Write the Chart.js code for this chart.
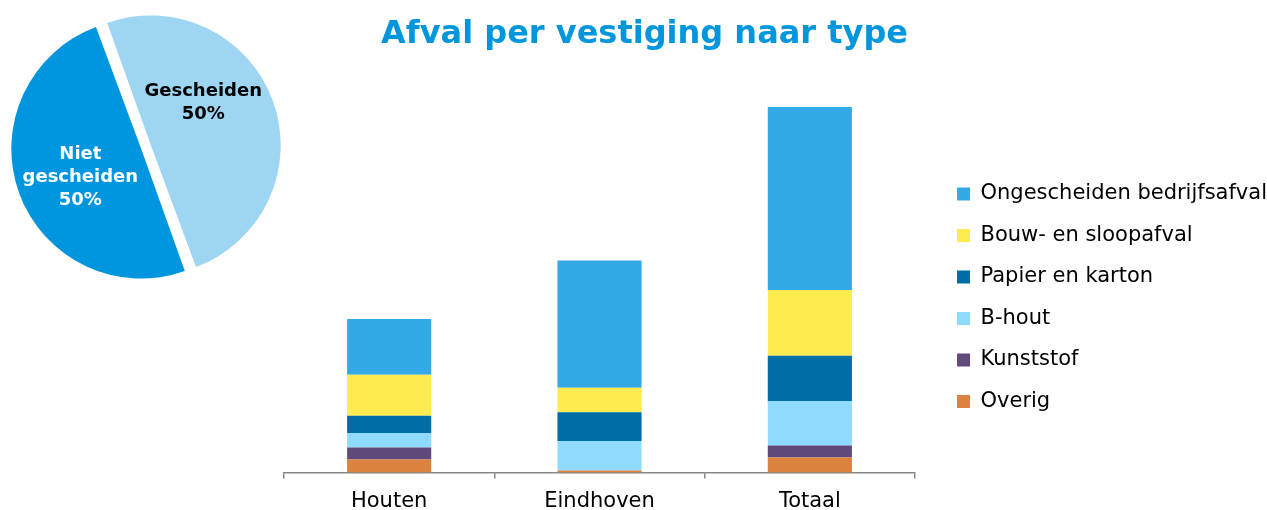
<!DOCTYPE html>
<html>
<head>
<meta charset="utf-8">
<script src="https://cdn.jsdelivr.net/npm/chart.js@4"></script>
<style>
    body { margin: 0; background: #fff; overflow: hidden; }
    #wrap { position: relative; width: 1267px; height: 510px; }
    #barChart { position: absolute; left: 0; top: 0; }
    #pieChart { position: absolute; left: 11px; top: 12px; }
</style>
</head>
<body>
<div id="wrap">
    <canvas id="barChart" width="1267" height="510"></canvas>
    <canvas id="pieChart" width="270" height="270"></canvas>
</div>
<script>
// Data
const categories = ['Houten', 'Eindhoven', 'Totaal']
const wasteTypes = ['Overig', 'Kunststof', 'B-hout', 'Papier en karton', 'Bouw- en sloopafval', 'Ongescheiden bedrijfsafval']
const overig = [13, 2, 15]
const kunststof = [12, 0, 12]
const bHout = [14.5, 29.5, 44]
const papier = [17, 28.5, 45.5]
const bouw = [41, 24.5, 65.5]
const ongescheiden = [55.5, 127, 182.5]

const pieLabels = ['Gescheiden', ['Niet', 'gescheiden']]
const pieValues = [50, 50]

const colors = ['#DB823E', '#604A7B', '#8FDAFF', '#006DA6', '#FEEB50', '#33AAE5']
const pieColors = ['#9DD5F2', '#0096DF']

Chart.defaults.font.family = "'DejaVu Sans', Verdana, sans-serif"
Chart.defaults.color = '#000'
Chart.defaults.animation = false

// Stacked bars
const seriesValues = [overig, kunststof, bHout, papier, bouw, ongescheiden]
const datasets = seriesValues.map((values, i) => ({
    label: wasteTypes[i],
    data: values,
    backgroundColor: colors[i],
    borderWidth: 0,
    barPercentage: 0.4,
    categoryPercentage: 1.0,
}))

// legend sits a bit closer to the right edge than chart.js default
const legendFit = {
    id: 'legendFit',
    beforeInit(chart) {
        const fit = chart.legend.fit
        chart.legend.fit = function () {
            fit.call(this)
            this.width -= 10
        }
    }
}

const barChart = new Chart(document.getElementById('barChart'), {
    type: 'bar',
    data: { labels: categories, datasets: datasets },
    plugins: [legendFit],
    options: {
        responsive: false,
        layout: { padding: { left: 22, right: 0, top: 0, bottom: 0 } },
        plugins: {
            title: {
                display: true,
                text: 'Afval per vestiging naar type',
                color: '#0096DB',
                font: { size: 32, weight: 'bold' },
                padding: { top: 15, bottom: 10 },
            },
            legend: {
                position: 'right',
                reverse: true,
                maxWidth: 400,
                title: { display: true, text: '', font: { size: 12 }, padding: { top: 0, bottom: 71 } },
                labels: {
                    boxWidth: 13,
                    boxHeight: 13,
                    padding: 20.5,
                    color: '#000',
                    font: { size: 21 },
                },
            },
            tooltip: { enabled: false },
        },
        scales: {
            x: {
                stacked: true,
                grid: {
                    display: true,
                    drawOnChartArea: false,
                    drawTicks: true,
                    tickLength: 6,
                    color: '#868686',
                    lineWidth: 1.5,
                    offset: true,
                },
                border: { display: true, color: '#868686', width: 1.5 },
                ticks: { color: '#000', font: { size: 21 }, padding: 10 },
                afterFit: (scale) => { scale.height = 37.5 },
            },
            y: {
                stacked: true,
                min: 0,
                max: 408,
                grid: { display: false },
                border: { display: false },
                ticks: { display: false },
                afterFit: (scale) => { scale.width = 262 },
            },
            // empty gap between plot and legend
            yGap: {
                position: 'right',
                grid: { display: false },
                border: { display: false },
                ticks: { display: false },
                afterFit: (scale) => { scale.width = 21.5 },
            },
        },
    }
})

// Pie with labels inside the slices
const labelAngleShift = [-17.7, -4.8]
const labelColors = ['#000', '#fff']
const pieLabelPlugin = {
    id: 'pieLabels',
    afterDatasetsDraw(chart) {
        const ctx = chart.ctx
        const meta = chart.getDatasetMeta(0)
        const total = pieValues.reduce((a, b) => a + b, 0)
        ctx.save()
        ctx.font = "bold 18px 'DejaVu Sans', Verdana, sans-serif"
        ctx.textAlign = 'center'
        ctx.textBaseline = 'middle'
        meta.data.forEach((arc, i) => {
            const mid = (arc.startAngle + arc.endAngle) / 2 + labelAngleShift[i] * Math.PI / 180
            const r = arc.outerRadius * 0.58
            const cx = arc.x + Math.cos(mid) * r
            const cy = arc.y + Math.sin(mid) * r
            let lines = [].concat(pieLabels[i])
            lines.push(Math.round(pieValues[i] / total * 100) + '%')
            const lh = 23
            ctx.fillStyle = labelColors[i]
            lines.forEach((line, j) => {
                ctx.fillText(line, cx, cy + (j - (lines.length - 1) / 2) * lh)
            })
        })
        ctx.restore()
    }
}

const pieChart = new Chart(document.getElementById('pieChart'), {
    type: 'pie',
    data: {
        labels: pieLabels,
        datasets: [{
            data: pieValues,
            backgroundColor: pieColors,
            borderWidth: 0,
            offset: 20.6,
        }]
    },
    plugins: [pieLabelPlugin],
    options: {
        responsive: false,
        rotation: -20,
        layout: { padding: 0 },
        plugins: {
            legend: { display: false },
            title: { display: false },
            tooltip: { enabled: false },
        },
    }
})
</script>
</body>
</html>
